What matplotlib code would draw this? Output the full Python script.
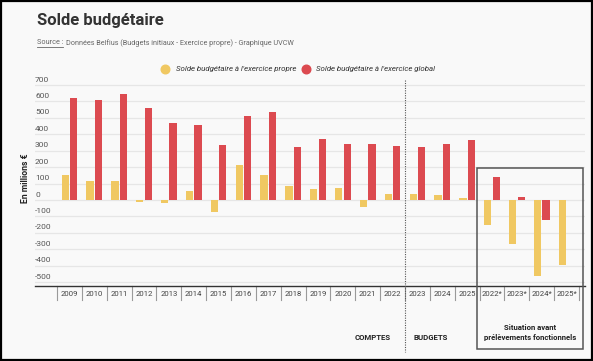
import matplotlib
matplotlib.use("Agg")
import matplotlib.pyplot as plt
import numpy as np
from matplotlib.patches import Rectangle
from matplotlib.lines import Line2D
import matplotlib.transforms as mtrans

categories = ['2009', '2010', '2011', '2012', '2013', '2014', '2015', '2016', '2017',
              '2018', '2019', '2020', '2021', '2022', '2023', '2024', '2025',
              '2022*', '2023*', '2024*', '2025*']
propre = [150, 117, 115, -10, -20, 55, -71, 213, 150, 85, 69, 75, -43, 36, 34, 30, 14,
          -150, -270, -465, -396]
global_ = [619, 608, 643, 562, 470, 456, 335, 511, 537, 323, 369, 343, 343, 327, 321, 343, 365,
           138, 16, -124, np.nan]
yticks = [700, 600, 500, 400, 300, 200, 100, 0, -100, -200, -300, -400, -500]
series_names = ["Solde budgétaire à l'exercice propre", "Solde budgétaire à l'exercice global"]
group_labels = ['COMPTES', 'BUDGETS', 'Situation avant\nprélèvements fonctionnels']

YEL = '#f0c862'
RED = '#dc4a50'
FONT = ['Roboto', 'DejaVu Sans']
plt.rcParams['font.family'] = FONT

W, H = 593, 361
fig = plt.figure(figsize=(W / 100, H / 100), dpi=100, facecolor='#f9f9f9')

def fx(px):
    return px / W

def fy(py):
    return 1 - py / H

# axes placement
ax_l, ax_r, ax_t, ax_b = 35, 585, 75, 286
ax = fig.add_axes([fx(ax_l), fy(ax_b), fx(ax_r - ax_l), (ax_b - ax_t) / H])
ax.set_facecolor('none')
for s in ax.spines.values():
    s.set_visible(False)
ax.set_xticks([])
ax.set_yticks([])

n = len(categories)
sep0, step = 57, 24.86
xl = (ax_l - sep0) / step - 0.5
xr = (ax_r - sep0) / step - 0.5
ax.set_xlim(xl, xr)
ppu = 16.43 / 100  # px per unit
ax.set_ylim(-(ax_b - 200) / ppu, (200 - ax_t) / ppu)

x = np.arange(n)
bw = 0.29
off = 0.17
ax.bar(x - off, propre, width=bw, color=YEL, zorder=3)
g = np.array(global_, dtype=float)
mask = ~np.isnan(g)
ax.bar(x[mask] + off, g[mask], width=bw, color=RED, zorder=3)

blend = mtrans.blended_transform_factory(ax.transAxes, ax.transData)
for v in yticks:
    ax.axhline(v, color='#e6e6e6', lw=0.9, zorder=1)
    ax.annotate(str(v), xy=(0, v), xycoords=blend, xytext=(0, 3.9),
                textcoords='offset points', ha='left', va='center',
                fontsize=6.0, color='#555555')

# bottom axis line
ax.plot([0, 1], [0, 0], transform=ax.transAxes, color='#333333', lw=1.0,
        clip_on=False, zorder=4)

# separators & year labels
blend2 = mtrans.blended_transform_factory(ax.transData, ax.transAxes)
hpx = ax_b - ax_t
for i in range(n + 1):
    ax.plot([i - 0.5, i - 0.5], [0, -14 / hpx], transform=blend2, color='#9a9a9a',
            lw=0.8, clip_on=False)
for i, c in enumerate(categories):
    ax.text(i, -7.5 / hpx, c, transform=blend2, ha='center', va='center',
            fontsize=5.6, color='#444444')

# dotted separator between comptes and budgets
ax.plot([13.5, 13.5], [(ax_b - 80) / hpx, (ax_b - 352) / hpx], transform=blend2,
        color='#555555', lw=0.8, ls=(0, (1, 1.2)), clip_on=False, zorder=5)

# box around estimated situation
fig.patches.append(Rectangle((fx(477), fy(349)), fx(583) - fx(477), (349 - 168) / H,
                             transform=fig.transFigure, fill=False,
                             edgecolor='#555555', lw=1.1))

# group labels
fig.text(fx(391), fy(338), group_labels[0], ha='right', va='center', fontsize=5.6,
         fontweight='bold', color='#222222')
fig.text(fx(413), fy(338), group_labels[1], ha='left', va='center', fontsize=5.6,
         fontweight='bold', color='#222222')
fig.text(fx(530), fy(332.5), group_labels[2], ha='center', va='center', fontsize=5.6,
         fontweight='bold', color='#222222', linespacing=1.5)

# y label
fig.text(fx(25), fy(178), 'En millions €', rotation=90, ha='center', va='center',
         fontsize=6.2, fontweight='bold', color='#222222')

# title & subtitle
fig.text(fx(37), fy(21), 'Solde budgétaire', ha='left', va='center', fontsize=12,
         fontweight='bold', color='#333333')
t1 = fig.text(fx(37), fy(43), 'Source :', ha='left', va='center', fontsize=5.2,
              color='#666666')
fig.canvas.draw()
bb = t1.get_window_extent()
fig.add_artist(Line2D([bb.x0 / W, bb.x1 / W], [(bb.y0 - 0.5) / H, (bb.y0 - 0.5) / H],
                      transform=fig.transFigure, color='#666666', lw=0.6))
fig.text(bb.x1 / W + fx(2.5), fy(43),
         'Données Belfius (Budgets initiaux - Exercice propre) - Graphique UVCW',
         ha='left', va='center', fontsize=5.2, color='#666666')

# legend
for cx, tx, col, name in [(165, 176, YEL, series_names[0]), (306, 316, RED, series_names[1])]:
    fig.add_artist(Line2D([fx(cx)], [fy(69)], marker='o', markersize=6.2, color=col,
                          transform=fig.transFigure, linestyle='none'))
    fig.text(fx(tx), fy(69), name, ha='left', va='center', fontsize=5.7,
             style='italic', color='#333333')

# outer frame
fig.patches.append(Rectangle((0.0015, 0.003), 0.997, 0.994, transform=fig.transFigure,
                             fill=False, edgecolor='black', lw=1.6))

fig.savefig('out.png', dpi=100, facecolor=fig.get_facecolor())
